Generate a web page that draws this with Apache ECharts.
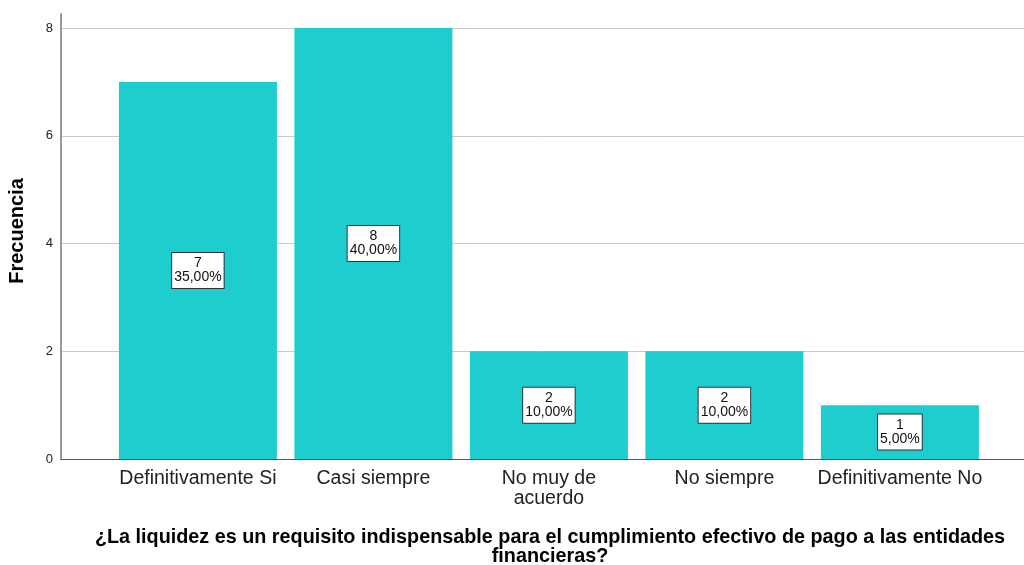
<!DOCTYPE html>
<html>
<head>
<meta charset="utf-8">
<script src="https://cdn.jsdelivr.net/npm/echarts@6/dist/echarts.min.js"></script>
<style>
  html, body { margin: 0; padding: 0; background: #fff; }
  #chart { width: 1024px; height: 565px; }
</style>
</head>
<body>
<div id="chart"></div>
<script>
// datos
const categories = ['Definitivamente Si', 'Casi siempre', 'No muy de\nacuerdo', 'No siempre', 'Definitivamente No'];
const counts = [7, 8, 2, 2, 1];
const percents = ['35,00%', '40,00%', '10,00%', '10,00%', '5,00%'];
const yTickValues = [0, 2, 4, 6, 8];
const positions = [0, 1, 2, 3, 4];

const font = 'Arial, "Liberation Sans", sans-serif';
const chart = echarts.init(document.getElementById('chart'));

const option = {
  animation: false,
  textStyle: { fontFamily: font },
  grid: [
    { left: 61, right: 0, top: 28, bottom: 106, outerBoundsMode: 'none' },
    // solo para alargar la linea del eje y hacia arriba
    { left: 61, right: 0, top: 14, bottom: 106, outerBoundsMode: 'none' }
  ],
  xAxis: [
    {
      type: 'value',
      gridIndex: 0,
      min: -0.78,
      max: 4.707,
      splitLine: { show: false },
      axisTick: { show: false },
      axisLine: { show: true, lineStyle: { color: '#555', width: 1 } },
      axisLabel: {
        customValues: positions,
        formatter: (v) => categories[Math.round(v)],
        color: '#222',
        fontSize: 19.5,
        lineHeight: 20,
        margin: 10,
        fontFamily: font
      },
      name: '¿La liquidez es un requisito indispensable para el cumplimiento efectivo de pago a las entidades\nfinancieras?',
      nameLocation: 'middle',
      nameGap: 69,
      nameTextStyle: {
        color: '#000',
        fontSize: 19.8,
        fontWeight: 'bold',
        lineHeight: 19,
        align: 'center',
        padding: [0, 0, 0, 15],
        fontFamily: font
      }
    },
    { type: 'value', gridIndex: 1, show: false, min: 0, max: 1 }
  ],
  yAxis: [
    {
      type: 'value',
      gridIndex: 0,
      min: 0,
      max: 8,
      interval: 2,
      axisLine: { show: false },
      axisTick: { show: false },
      splitLine: { show: true, lineStyle: { color: '#c8c8c8', width: 1 } },
      axisLabel: {
        color: '#222',
        fontSize: 13,
        margin: 8,
        formatter: (v) => (yTickValues.includes(v) ? String(v) : ''),
        fontFamily: font
      },
      name: 'Frecuencia',
      nameLocation: 'middle',
      nameGap: 34,
      nameTextStyle: {
        color: '#000',
        fontSize: 20,
        fontWeight: 'bold',
        padding: [0, 0, 0, 25],
        fontFamily: font
      }
    },
    {
      type: 'value',
      gridIndex: 1,
      min: 0,
      max: 1,
      axisLine: { show: true, lineStyle: { color: '#999', width: 2 } },
      axisTick: { show: false },
      axisLabel: { show: false },
      splitLine: { show: false }
    }
  ],
  series: [
    {
      type: 'bar',
      xAxisIndex: 0,
      yAxisIndex: 0,
      barWidth: 158,
      data: counts.map((v, i) => [positions[i], v]),
      itemStyle: { color: '#1ecdcd' },
      label: {
        show: true,
        position: 'inside',
        formatter: (p) => counts[p.dataIndex] + '\n' + percents[p.dataIndex],
        color: '#111',
        fontSize: 14,
        lineHeight: 14,
        backgroundColor: '#fff',
        borderColor: '#333',
        borderWidth: 1,
        padding: [4, 2, 3, 2],
        align: 'center',
        fontFamily: font
      }
    }
  ]
};

chart.setOption(option);
</script>
</body>
</html>
